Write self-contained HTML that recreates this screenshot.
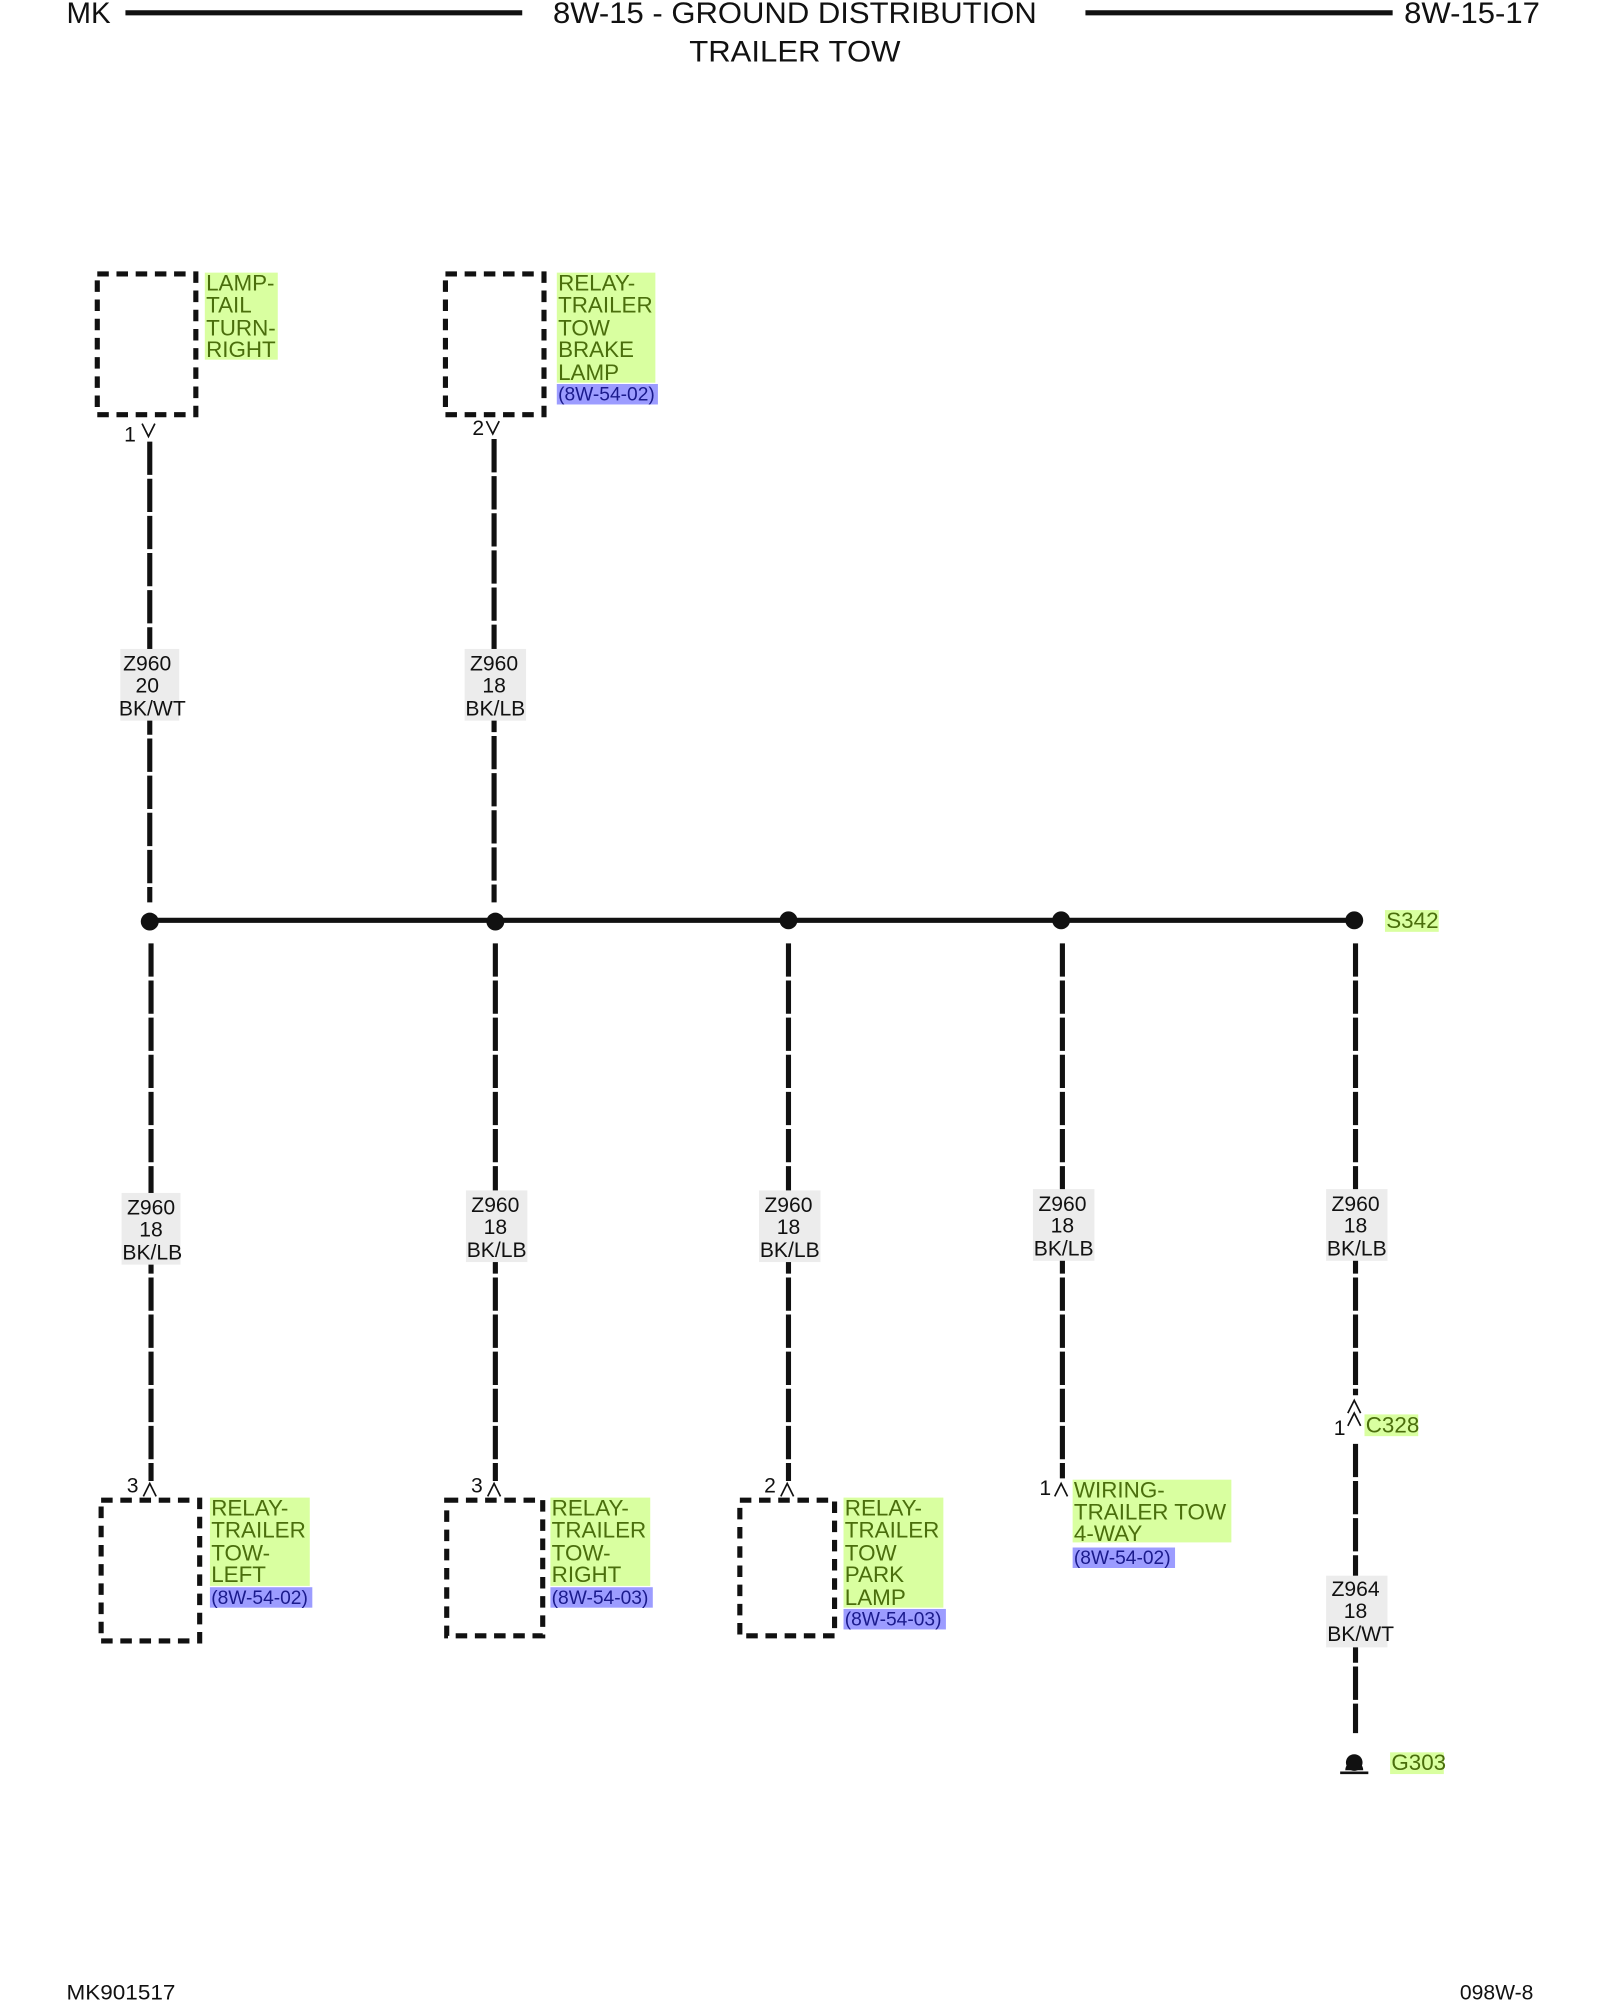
<!DOCTYPE html>
<html><head><meta charset="utf-8"><style>
html,body{margin:0;padding:0;background:#fff;}
svg{display:block;}
text{font-family:"Liberation Sans",Arial,sans-serif;}
.g{fill:#4a6e0c;font-size:17.5px;}
.b{fill:#1a1a8c;font-size:15px;}
.k{fill:#111;font-size:16.5px;}
</style></head><body>
<svg width="1600" height="2000" viewBox="0 0 1250 1562.5" xmlns="http://www.w3.org/2000/svg">
<!-- header -->
<text x="52" y="18" font-size="23" fill="#111">MK</text>
<rect x="98" y="8" width="310" height="4" fill="#111"/>
<text x="621" y="18" font-size="23" fill="#111" text-anchor="middle" textLength="378" lengthAdjust="spacingAndGlyphs">8W-15 - GROUND DISTRIBUTION</text>
<text x="621" y="48" font-size="23" fill="#111" text-anchor="middle" textLength="165" lengthAdjust="spacingAndGlyphs">TRAILER TOW</text>
<rect x="848" y="8" width="240" height="4" fill="#111"/>
<text x="1097" y="18" font-size="23" fill="#111" textLength="106" lengthAdjust="spacingAndGlyphs">8W-15-17</text>
<text x="52" y="1562" font-size="16.5" fill="#111" textLength="85" lengthAdjust="spacingAndGlyphs">MK901517</text>
<text x="1198" y="1562" font-size="16.5" fill="#111" text-anchor="end">098W-8</text>

<!-- dashed boxes -->
<g fill="none" stroke="#111" stroke-width="4" stroke-dasharray="9 6">
<rect x="76" y="214" width="77" height="110"/>
<rect x="348" y="214" width="77" height="110"/>
<rect x="79" y="1172" width="77" height="110"/>
<rect x="349" y="1172" width="75" height="106"/>
<rect x="578" y="1172" width="74" height="106"/>
</g>

<!-- label backgrounds -->
<g fill="#d9ffa0">
<rect x="160" y="213" width="57" height="68"/>
<rect x="435" y="213" width="77" height="86"/>
<rect x="164" y="1170" width="78" height="69"/>
<rect x="430" y="1170" width="78" height="69"/>
<rect x="659" y="1170" width="78" height="86"/>
<rect x="838" y="1156" width="124" height="49"/>
<rect x="1082" y="711" width="42" height="17"/>
<rect x="1066" y="1105" width="42" height="17"/>
<rect x="1086" y="1369" width="42" height="17"/>
</g>
<g fill="#9c9cff">
<rect x="435" y="300" width="79" height="16"/>
<rect x="164" y="1240" width="80" height="16"/>
<rect x="430" y="1240" width="80" height="16"/>
<rect x="659" y="1257" width="80" height="16"/>
<rect x="838" y="1209" width="80" height="16"/>
</g>

<!-- component labels -->
<text class="g" x="161" y="227">LAMP-</text>
<text class="g" x="161" y="244">TAIL</text>
<text class="g" x="161" y="262">TURN-</text>
<text class="g" x="161" y="279">RIGHT</text>

<text class="g" x="436" y="227">RELAY-</text>
<text class="g" x="436" y="244">TRAILER</text>
<text class="g" x="436" y="262">TOW</text>
<text class="g" x="436" y="279">BRAKE</text>
<text class="g" x="436" y="297">LAMP</text>
<text class="b" x="436" y="313">(8W-54-02)</text>

<text class="g" x="165" y="1184">RELAY-</text>
<text class="g" x="165" y="1201">TRAILER</text>
<text class="g" x="165" y="1219">TOW-</text>
<text class="g" x="165" y="1236">LEFT</text>
<text class="b" x="165" y="1253">(8W-54-02)</text>

<text class="g" x="431" y="1184">RELAY-</text>
<text class="g" x="431" y="1201">TRAILER</text>
<text class="g" x="431" y="1219">TOW-</text>
<text class="g" x="431" y="1236">RIGHT</text>
<text class="b" x="431" y="1253">(8W-54-03)</text>

<text class="g" x="660" y="1184">RELAY-</text>
<text class="g" x="660" y="1201">TRAILER</text>
<text class="g" x="660" y="1219">TOW</text>
<text class="g" x="660" y="1236">PARK</text>
<text class="g" x="660" y="1254">LAMP</text>
<text class="b" x="660" y="1270">(8W-54-03)</text>

<text class="g" x="839" y="1170">WIRING-</text>
<text class="g" x="839" y="1187">TRAILER TOW</text>
<text class="g" x="839" y="1204">4-WAY</text>
<text class="b" x="839" y="1222">(8W-54-02)</text>

<text class="g" x="1083" y="725">S342</text>
<text class="g" x="1067" y="1119">C328</text>
<text class="g" x="1087" y="1383">G303</text>

<!-- wires -->
<g stroke="#111" stroke-width="4" stroke-dasharray="26 3" fill="none">
<line x1="117" y1="345" x2="117" y2="705"/>
<line x1="386" y1="343" x2="386" y2="705"/>
<line x1="118" y1="737" x2="118" y2="1157"/>
<line x1="387" y1="737" x2="387" y2="1157"/>
<line x1="616" y1="737" x2="616" y2="1157"/>
<line x1="830" y1="737" x2="830" y2="1155"/>
<line x1="1059" y1="737" x2="1059" y2="1090"/>
<line x1="1059" y1="1128" x2="1059" y2="1354"/>
</g>
<line x1="117" y1="719" x2="1058" y2="719" stroke="#111" stroke-width="4"/>
<g fill="#111">
<circle cx="117" cy="720" r="7"/>
<circle cx="387" cy="720" r="7"/>
<circle cx="616" cy="719" r="7"/>
<circle cx="829" cy="719" r="7"/>
<circle cx="1058" cy="719" r="7"/>
</g>

<!-- pin chevrons -->
<g stroke="#111" stroke-width="1.3" fill="none">
<polyline points="111,331 116,341 121,331"/>
<polyline points="380,329 385,339 390,329"/>
<polyline points="112,1169 117,1159 122,1169"/>
<polyline points="381,1169 386,1159 391,1169"/>
<polyline points="610,1169 615,1159 620,1169"/>
<polyline points="824,1169 829,1159 834,1169"/>
<polyline points="1053,1104 1058,1094 1063,1104"/>
<polyline points="1053,1114 1058,1104 1063,1114"/>
</g>
<text class="k" x="97" y="345">1</text>
<text class="k" x="369" y="340">2</text>
<text class="k" x="99" y="1166">3</text>
<text class="k" x="368" y="1166">3</text>
<text class="k" x="597" y="1166">2</text>
<text class="k" x="812" y="1168">1</text>
<text class="k" x="1042" y="1121">1</text>

<!-- wire labels -->
<g fill="#ececec">
<rect x="94" y="507" width="46" height="56"/>
<rect x="363" y="507" width="48" height="56"/>
<rect x="95" y="932" width="46" height="56"/>
<rect x="364" y="930" width="48" height="56"/>
<rect x="593" y="930" width="48" height="56"/>
<rect x="807" y="929" width="48" height="56"/>
<rect x="1036" y="929" width="48" height="56"/>
<rect x="1036" y="1231" width="48" height="56"/>
</g>
<g class="k" text-anchor="middle">
<text x="115" y="524">Z960</text><text x="115" y="541">20</text><text x="119" y="559">BK/WT</text>
<text x="386" y="524">Z960</text><text x="386" y="541">18</text><text x="387" y="559">BK/LB</text>
<text x="118" y="949">Z960</text><text x="118" y="966">18</text><text x="119" y="984">BK/LB</text>
<text x="387" y="947">Z960</text><text x="387" y="964">18</text><text x="388" y="982">BK/LB</text>
<text x="616" y="947">Z960</text><text x="616" y="964">18</text><text x="617" y="982">BK/LB</text>
<text x="830" y="946">Z960</text><text x="830" y="963">18</text><text x="831" y="981">BK/LB</text>
<text x="1059" y="946">Z960</text><text x="1059" y="963">18</text><text x="1060" y="981">BK/LB</text>
<text x="1059" y="1247">Z964</text><text x="1059" y="1264">18</text><text x="1063" y="1282">BK/WT</text>
</g>

<!-- ground -->
<path d="M1051,1383 A7,7 0 0 1 1065,1383 Z" fill="#111"/>
<circle cx="1058" cy="1377" r="6.5" fill="#111"/>
<line x1="1047" y1="1385" x2="1069" y2="1385" stroke="#111" stroke-width="2"/>
</svg>
</body></html>
